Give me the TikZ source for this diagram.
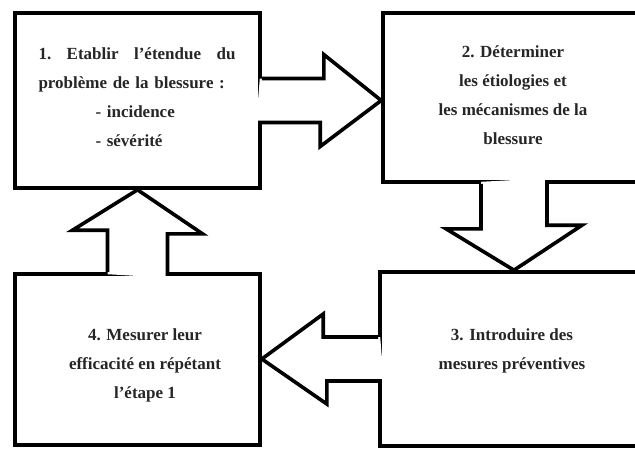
\documentclass[tikz,border=0pt]{standalone}
\usepackage{fontspec}
\setmainfont{Liberation Serif}
\usetikzlibrary{calc}

\tikzset{
  stepbox/.style={draw, line width=3.6pt, inner sep=0pt},
  steptext/.style={align=center, inner sep=0pt, text=black!85, font=\fontsize{17}{29}\selectfont\bfseries},
  arrowline/.style={line width=3.6pt, line join=miter},
}

\begin{document}
\begin{tikzpicture}[x=1pt, y=-1pt]
	\useasboundingbox (0,0) rectangle (635,448);
	\clip (0,0) rectangle (635,448);

	% the four steps
	\node[stepbox, minimum width=245pt, minimum height=175pt] (b1) at (137.5,100.5) {};
	\node[stepbox, minimum width=262pt, minimum height=169pt] (b2) at (514,97.5) {};
	\node[stepbox, minimum width=265pt, minimum height=174pt] (b3) at (512.5,359) {};
	\node[stepbox, minimum width=245pt, minimum height=171pt] (b4) at (137.5,359.5) {};

	\node[steptext, text width=197pt, align=left] (t1) at (137,97) {1.\hfill Etablir\hfill l’étendue\hfill du\\
		problème de la blessure :\\
		\hspace*{57pt}- incidence\\
		\hspace*{57pt}- sévérité};
	\node[steptext] (t2) at (513,95) {2. Déterminer\\les étiologies et\\les mécanismes de la\\blessure};
	\node[steptext] (t3) at (512,351) {3. Introduire des\\mesures préventives};
	\node[steptext] (t4) at (145,365) {4. Mesurer leur\\efficacité en répétant\\l’étape 1};

	% 1 -> 2
	\fill[white] ($(b1.east)+(-2,-22)$) -- ++(64,0) -- ++(0,-24) -- (b2.west |- b1.east) -- ++(-61,46) -- ++(0,-24) -- ++(-64,0) -- cycle;
	\draw[arrowline] (b1.east) ++(0,-22) -- ++(62,0) -- ++(0,-24) -- (b2.west |- b1.east) -- ++(-61,46) -- ++(0,-24) -- ++(-62,0);

	% 2 -> 3
	\fill[white] ($(b2.south)+(-33,-2)$) -- ++(0,47) -- ++(-35,0) -- (b2.south |- b3.north) -- ++(68,-45) -- ++(-35,0) -- ++(0,-47) -- cycle;
	\draw[arrowline] (b2.south) ++(-33,0) -- ++(0,45) -- ++(-35,0) -- (b2.south |- b3.north) -- ++(68,-45) -- ++(-35,0) -- ++(0,-45);

	% 3 -> 4
	\fill[white] ($(b3.west)+(2,-22)$) -- ++(-57,0) -- ++(0,-23) -- (b4.east |- b3.west) -- ++(65,45) -- ++(0,-23) -- ++(57,0) -- cycle;
	\draw[arrowline] (b3.west) ++(0,-22) -- ++(-55,0) -- ++(0,-23) -- (b4.east |- b3.west) -- ++(65,45) -- ++(0,-23) -- ++(55,0);

	% 4 -> 1
	\fill[white] ($(b4.north)+(-30,2)$) -- ++(0,-44) -- ++(-35,0) -- (b4.north |- b1.south) -- ++(65,44) -- ++(-35,0) -- ++(0,44) -- cycle;
	\draw[arrowline] (b4.north) ++(-30,0) -- ++(0,-42) -- ++(-35,0) -- (b4.north |- b1.south) -- ++(65,44) -- ++(-35,0) -- ++(0,42);
\end{tikzpicture}
\end{document}
